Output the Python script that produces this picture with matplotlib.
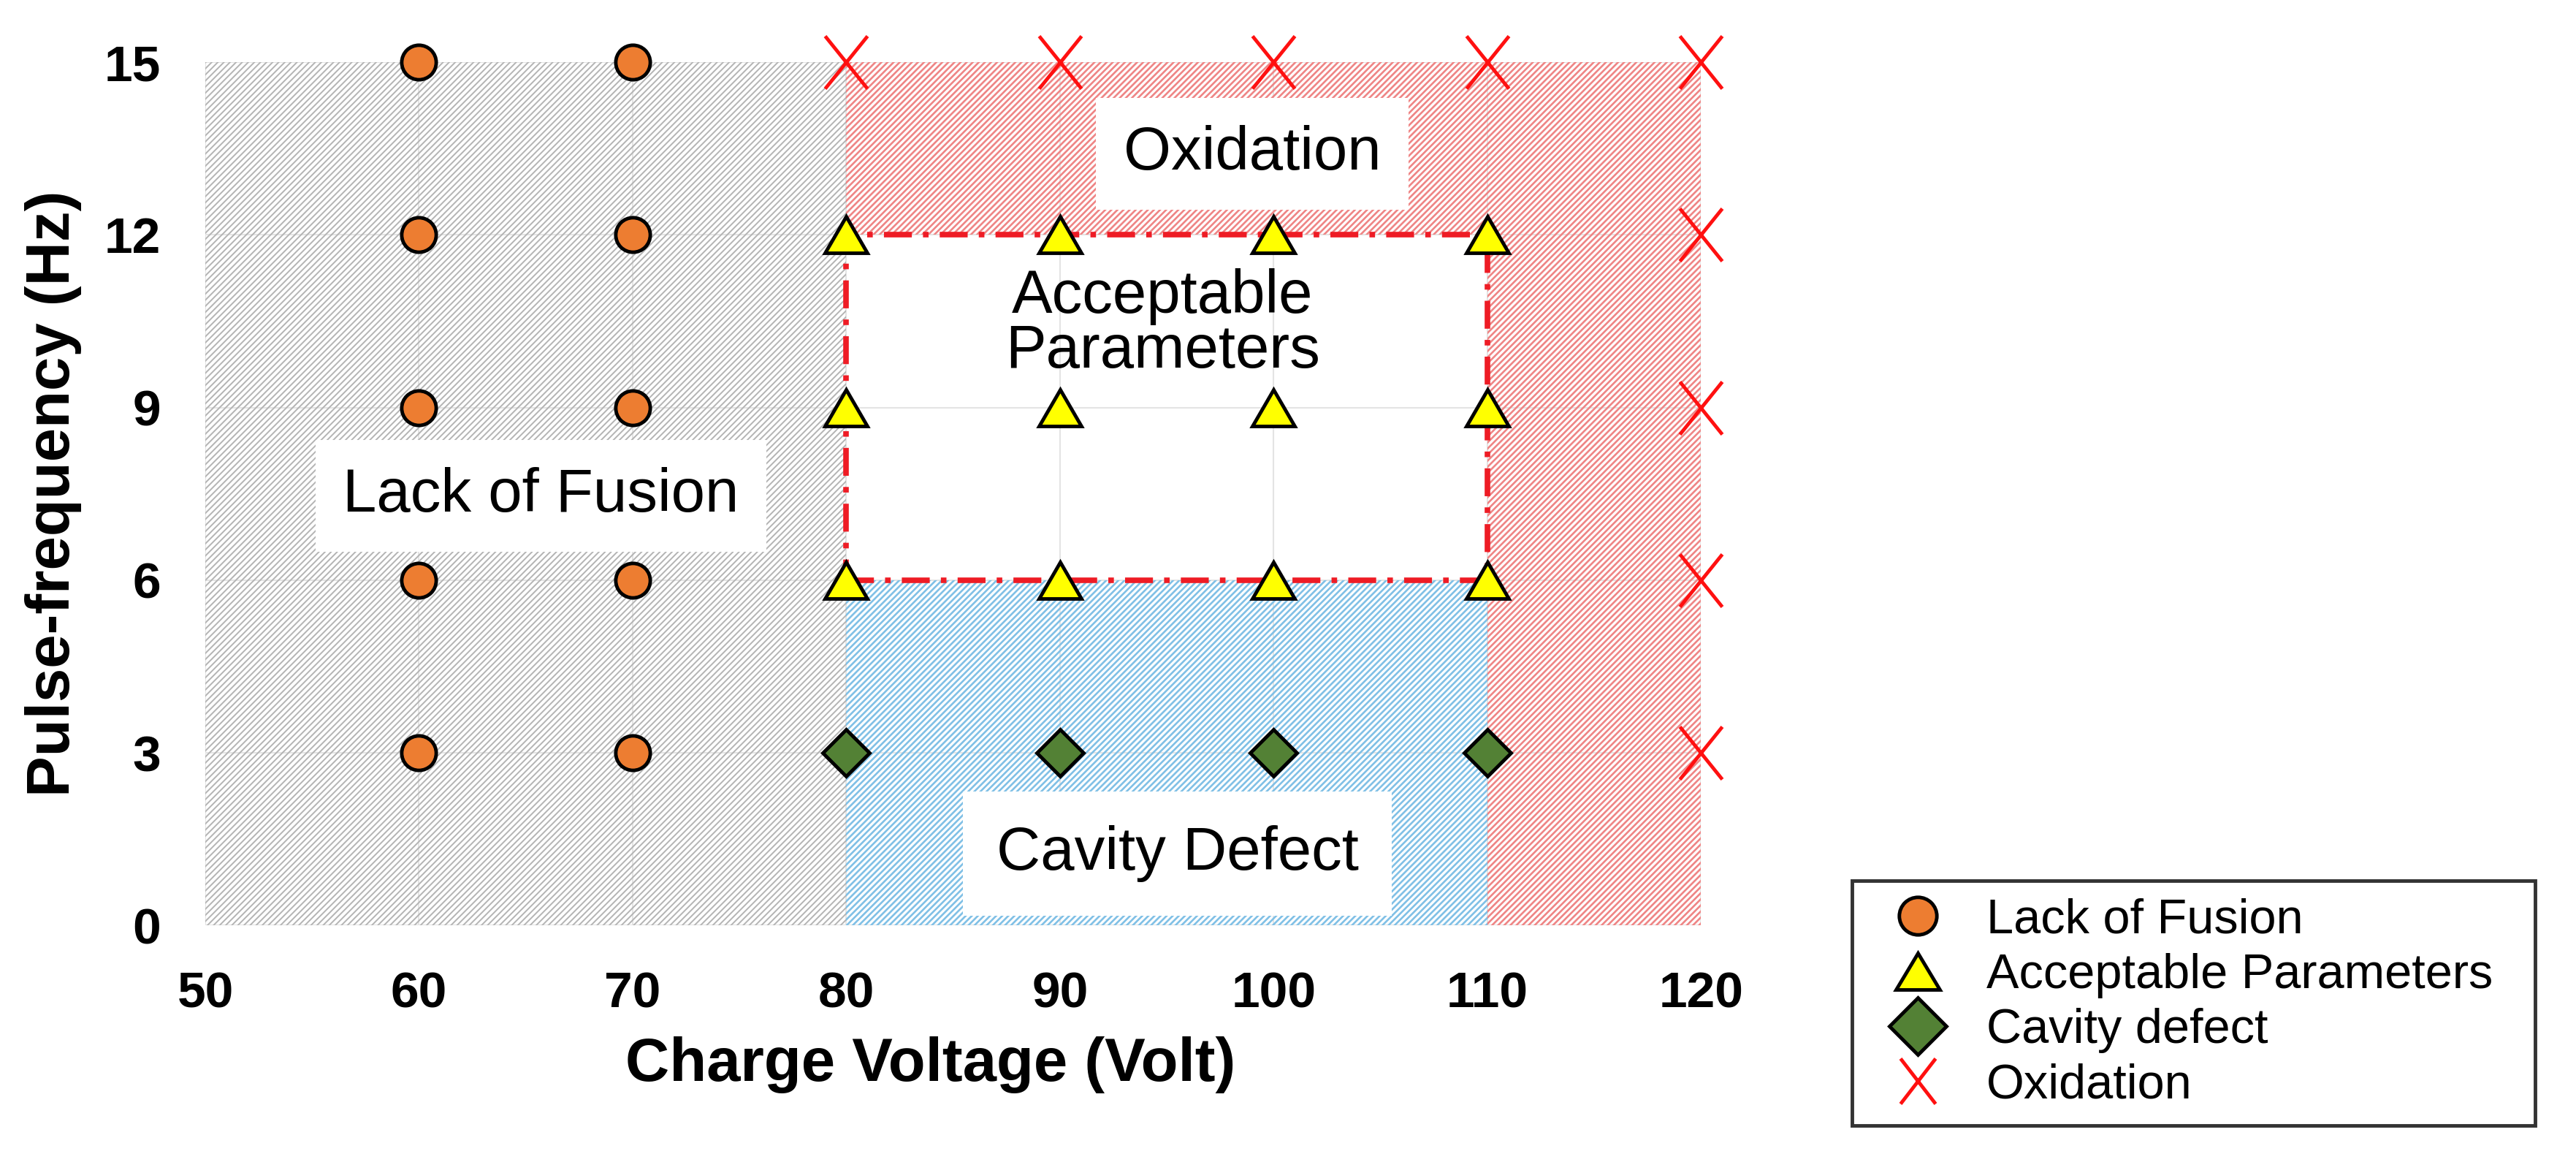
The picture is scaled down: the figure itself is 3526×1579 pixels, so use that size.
import matplotlib.pyplot as plt
from matplotlib.patches import Rectangle
from matplotlib.lines import Line2D
from matplotlib.markers import MarkerStyle
from matplotlib.transforms import Affine2D

plt.rcParams['font.family'] = ['Liberation Sans', 'DejaVu Sans']

# --- data ---
lof_v = [60, 60, 60, 60, 60, 70, 70, 70, 70, 70]
lof_f = [3, 6, 9, 12, 15, 3, 6, 9, 12, 15]

acc_v = [80, 90, 100, 110, 80, 90, 100, 110, 80, 90, 100, 110]
acc_f = [6, 6, 6, 6, 9, 9, 9, 9, 12, 12, 12, 12]

cav_v = [80, 90, 100, 110]
cav_f = [3, 3, 3, 3]

oxi_v = [80, 90, 100, 110, 120, 120, 120, 120, 120]
oxi_f = [15, 15, 15, 15, 15, 12, 9, 6, 3]

# regions: (x0, x1, y0, y1)
gray_zone = [(50, 80, 0, 15)]
red_zone = [(80, 110, 12, 15), (110, 120, 0, 15)]
blue_zone = [(80, 110, 0, 6)]
ok_zone = (80, 110, 6, 12)

x_ticks = [50, 60, 70, 80, 90, 100, 110, 120]
y_ticks = [0, 3, 6, 9, 12, 15]

legend_labels = ['Lack of Fusion', 'Acceptable Parameters', 'Cavity defect', 'Oxidation']

# marker shapes (slightly squashed like the original)
tri = MarkerStyle('^', transform=Affine2D().scale(1.0, 0.85))
cross = MarkerStyle('x', transform=Affine2D().scale(0.8, 1.0))

fig = plt.figure(figsize=(35.26, 15.79), dpi=100)
ax = fig.add_axes([0.0797, 0.198, 0.5806, 0.748])

ax.grid(True, color='#e4e4e4', linewidth=1.5, zorder=0)
ax.set_axisbelow(True)

def shade(zones, col, lw):
    with plt.rc_context({'hatch.linewidth': lw}):
        for x0, x1, y0, y1 in zones:
            ax.add_patch(Rectangle((x0, y0), x1 - x0, y1 - y0, facecolor='none',
                                   edgecolor=col, hatch='////', linewidth=0, zorder=1))

shade(gray_zone, '#b4b4b4', 1.4)
shade(red_zone, '#ef8585', 1.9)
shade(blue_zone, '#80c0e6', 1.9)

x0, x1, y0, y1 = ok_zone
ax.add_patch(Rectangle((x0, y0), x1 - x0, y1 - y0, facecolor='none',
                       edgecolor='#ee1c25', linewidth=5.5,
                       linestyle=(0, (5, 2, 1, 2)), zorder=2))

# region labels
ax.text(99.0, 13.41, 'Oxidation', fontsize=60, ha='center', va='center', zorder=3,
        bbox=dict(facecolor='white', edgecolor='none', boxstyle='square,pad=0.45'))
ax.text(94.8, 10.45, 'Acceptable\nParameters', fontsize=60, ha='center', va='center',
        linespacing=0.95, zorder=3)
ax.text(65.7, 7.47, 'Lack of Fusion', fontsize=60, ha='center', va='center', zorder=3,
        bbox=dict(facecolor='white', edgecolor='none', boxstyle='square,pad=0.45'))
ax.text(95.5, 1.25, 'Cavity Defect', fontsize=60, ha='center', va='center', zorder=3,
        bbox=dict(facecolor='white', edgecolor='none', boxstyle='square,pad=0.55'))

# markers
ax.plot(lof_v, lof_f, 'o', ms=34, mfc='#ed7d31', mec='black', mew=3.5,
        ls='none', clip_on=False, zorder=5)
ax.plot(acc_v, acc_f, marker=tri, ms=42, mfc='#ffff00', mec='black', mew=3.5,
        ls='none', clip_on=False, zorder=5)
ax.plot(cav_v, cav_f, 'D', ms=33, mfc='#538135', mec='black', mew=3.5,
        ls='none', clip_on=False, zorder=5)
ax.plot(oxi_v, oxi_f, marker=cross, ms=52, mec='#ff1010', mew=3.5,
        ls='none', clip_on=False, zorder=5)

ax.set_xlim(50, 120)
ax.set_ylim(0, 15)
ax.set_xticks(x_ticks)
ax.set_yticks(y_ticks)
ax.tick_params(length=0, labelsize=50)
ax.tick_params(axis='x', pad=45)
ax.tick_params(axis='y', pad=44)
for lab in ax.get_xticklabels() + ax.get_yticklabels():
    lab.set_fontweight('bold')
for s in ax.spines.values():
    s.set_visible(False)

ax.set_xlabel('Charge Voltage (Volt)', fontsize=60, fontweight='bold', labelpad=18)
ax.xaxis.label.set_x(0.485)
ax.set_ylabel('Pulse-frequency (Hz)', fontsize=60, fontweight='bold', labelpad=22)

handles = [
    Line2D([], [], marker='o', ls='none', ms=37, mfc='#ed7d31', mec='black', mew=3.5),
    Line2D([], [], marker=tri, ls='none', ms=43, mfc='#ffff00', mec='black', mew=3.5),
    Line2D([], [], marker='D', ls='none', ms=40, mfc='#538135', mec='black', mew=3.5),
    Line2D([], [], marker=cross, ls='none', ms=44, mec='#ff1010', mew=3.5),
]
leg = fig.legend(handles, legend_labels, loc='lower left',
                 bbox_to_anchor=(0.719, 0.0247, 0.265, 0.24), mode='expand',
                 fontsize=48, frameon=True, fancybox=False, handletextpad=0.4,
                 handlelength=2.0, borderaxespad=0, labelspacing=0.2, borderpad=0.35)
leg.get_frame().set_edgecolor('black')
leg.get_frame().set_linewidth(3.5)

fig.savefig('out.png', dpi=100)
